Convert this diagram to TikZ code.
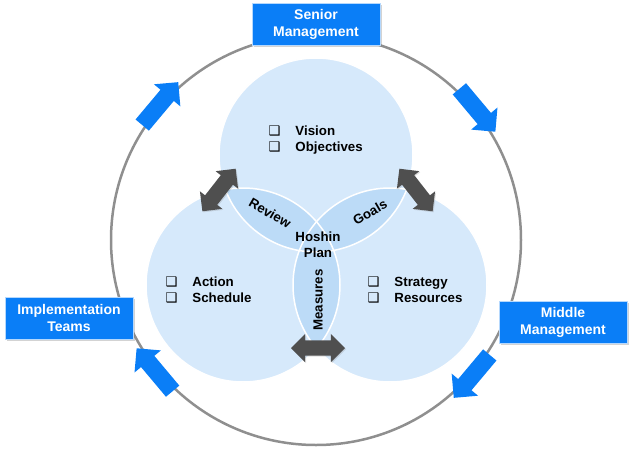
\documentclass[tikz,border=0pt]{standalone}
\usepackage{fontspec}
\setmainfont{Liberation Sans}
\newfontfamily\symfont{DejaVu Sans}
\usetikzlibrary{shapes.arrows,shadows,calc}
\definecolor{ringgray}{HTML}{8F8F8F}
\definecolor{boxblue}{HTML}{0A7EF7}
\definecolor{venn}{HTML}{D6E9FB}
\definecolor{vennmid}{HTML}{BCDBF7}
\definecolor{darrow}{HTML}{4F4F4F}
\newcommand{\chk}{{\symfont\char"2751}}

\begin{document}
\begin{tikzpicture} [
        x=1pt, y=-1pt,
        font=\bfseries\fontsize{13.3}{16}\selectfont,
        level/.style={draw=white!70!boxblue, fill=boxblue, text=white, align=center,
            minimum width=128pt, minimum height=42pt,
            font=\bfseries\fontsize{14}{17}\selectfont,
            drop shadow={shadow xshift=2pt, shadow yshift=-2pt, opacity=0.35}},
        flow/.style={single arrow, fill=boxblue, inner xsep=0pt, inner ysep=8.5pt,
            minimum height=56pt, single arrow head extend=8.5pt},
        swap/.style={double arrow, fill=darrow, inner xsep=0pt, inner ysep=7.5pt,
            minimum height=54pt, double arrow head extend=6.5pt,
            drop shadow={shadow xshift=1pt, shadow yshift=-1pt, opacity=0.25}},
        venncirc/.style={fill=venn},
        ring/.style={draw=ringgray, line width=2.5pt} ]
    \useasboundingbox (0,0) rectangle (632,453);
    \coordinate (ccen) at (316,240);
    \coordinate (ctop) at (316,155);
    \coordinate (cleft) at (243,285);
    \coordinate (cright) at (390,285);
    \draw[ring] (ccen) circle[radius=205];
    \fill[venncirc] (ctop) circle[radius=97];
    \fill[venncirc] (cleft) circle[radius=97];
    \fill[venncirc] (cright) circle[radius=97];
    \foreach \p/\q in {ctop/cleft, ctop/cright, cleft/cright} {
        \begin{scope}
            \clip (\p) circle[radius=97];
            \fill[vennmid] (\q) circle[radius=97];
        \end{scope}
    }
    \foreach \p in {ctop, cleft, cright}
        \draw[white, line width=1.5pt] (\p) circle[radius=97];
    \node[level] (senior) at (316,24) {Senior\\Management};
    \node[level] (middle) at (563,322) {Middle\\Management};
    \node[level] (impl) at (69,318) {Implementation\\Teams};
    \foreach \a/\n in {140/fa, 40/fb, -40/fc, -140/fd}
        \node[flow, rotate=\a-90] (\n) at ($(ccen)+(-\a:207)$) {};
    \node[swap, rotate=52] (sleft) at (219,190) {};
    \node[swap, rotate=-52] (sright) at (416,190) {};
    \node[swap] (sbottom) at (318,348) {};
    \node[anchor=west] (vision) at (265,140)
        {\begin{tabular}{@{}l@{\hspace{15pt}}l@{}}\chk & Vision\\ \chk & Objectives\end{tabular}};
    \node[anchor=west] (action) at (162,291)
        {\begin{tabular}{@{}l@{\hspace{15pt}}l@{}}\chk & Action\\ \chk & Schedule\end{tabular}};
    \node[anchor=west] (strategy) at (364,291)
        {\begin{tabular}{@{}l@{\hspace{15pt}}l@{}}\chk & Strategy\\ \chk & Resources\end{tabular}};
    \node[rotate=-30, inner sep=1pt] (review) at (270,213) {Review};
    \node[rotate=30, inner sep=1pt] (goals) at (370,212) {Goals};
    \node[align=center] (hoshin) at (318,245) {Hoshin\\Plan};
    \node[rotate=90] (measures) at (318,300) {Measures};
\end{tikzpicture}
\end{document}
